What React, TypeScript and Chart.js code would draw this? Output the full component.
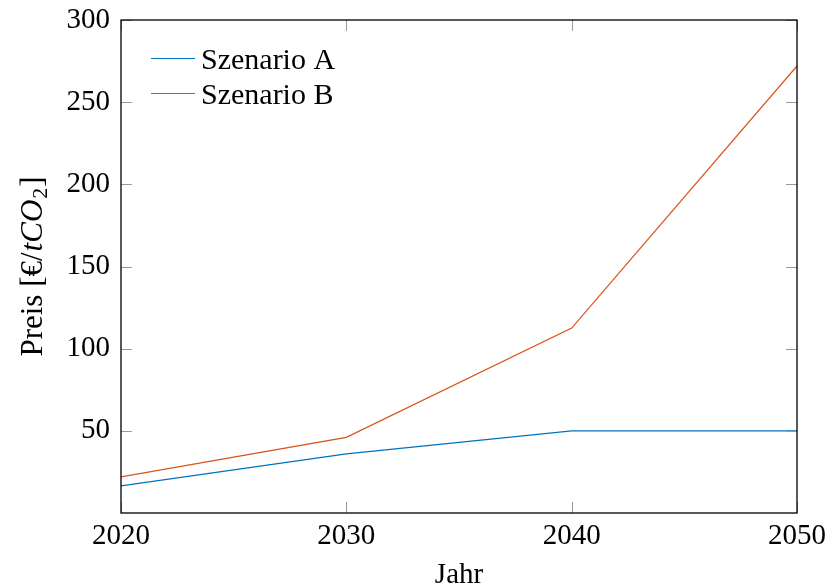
import React, { useEffect, useRef } from "react";
import { Chart, registerables } from "chart.js";

Chart.register(...registerables);

const years = [2020, 2030, 2040, 2050];
const szenarioA = [16.5, 36, 50, 50];
const szenarioB = [22, 46, 112.5, 272];
const seriesLabels = ["Szenario A", "Szenario B"];
const seriesColors = ["#0072BD", "#D95319"];
const xTicks = [2020, 2030, 2040, 2050];
const yTicks = [50, 100, 150, 200, 250, 300];
const xTitle = "Jahr";

const FONT = "'Liberation Serif', 'Times New Roman', serif";
const FS = 29;
const TFS = 31;

const zeroPad = (s: any) => {
  s.paddingLeft = 0;
  s.paddingRight = 0;
  s.paddingTop = 0;
  s.paddingBottom = 0;
};

const decorPlugin = {
  id: "decor",
  afterDraw(chart: any) {
    const { ctx, chartArea } = chart;
    const { left, right, top, bottom } = chartArea;
    const xs = chart.scales.x;
    const ys = chart.scales.y;
    ctx.save();
    // inward ticks
    ctx.strokeStyle = "#9a9a9a";
    ctx.lineWidth = 1;
    const tl = 11;
    ctx.beginPath();
    xTicks.forEach((v) => {
      const px = Math.round(xs.getPixelForValue(v)) + 0.5;
      ctx.moveTo(px, bottom);
      ctx.lineTo(px, bottom - tl);
      ctx.moveTo(px, top);
      ctx.lineTo(px, top + tl);
    });
    yTicks.forEach((v) => {
      const py = Math.round(ys.getPixelForValue(v)) + 0.5;
      ctx.moveTo(left, py);
      ctx.lineTo(left + tl, py);
      ctx.moveTo(right, py);
      ctx.lineTo(right - tl, py);
    });
    ctx.stroke();
    // frame
    ctx.strokeStyle = "#000";
    ctx.lineWidth = 1.3;
    ctx.strokeRect(left, top, right - left, bottom - top);

    // legend
    ctx.font = `${FS + 1}px ${FONT}`;
    ctx.textAlign = "left";
    ctx.textBaseline = "alphabetic";
    chart.data.datasets.forEach((ds: any, i: number) => {
      const ly = top + 38.5 + i * 35;
      ctx.strokeStyle = ds.borderColor;
      ctx.lineWidth = 1.2;
      ctx.beginPath();
      ctx.moveTo(left + 30, ly);
      ctx.lineTo(left + 74, ly);
      ctx.stroke();
      ctx.fillStyle = "#000";
      ctx.fillText(ds.label, left + 80, ly + 10);
    });

    // x title
    ctx.font = `${FS}px ${FONT}`;
    ctx.textAlign = "center";
    ctx.fillText(xTitle, (left + right) / 2, 583);

    // y title: Preis [€/tCO₂]
    ctx.translate(42, (top + bottom) / 2);
    ctx.rotate(-Math.PI / 2);
    const parts: { t: string; f: string; dy: number; gap: number }[] = [
      { t: "Preis [€/", f: `${TFS}px ${FONT}`, dy: 0, gap: 1 },
      { t: "tCO", f: `italic ${TFS}px ${FONT}`, dy: 0, gap: 1 },
      { t: "2", f: `${Math.round(TFS * 0.7)}px ${FONT}`, dy: 5, gap: 1 },
      { t: "]", f: `${TFS}px ${FONT}`, dy: 0, gap: 0 },
    ];
    let total = 0;
    parts.forEach((p) => {
      ctx.font = p.f;
      total += ctx.measureText(p.t).width + p.gap;
    });
    let x = -total / 2;
    ctx.textAlign = "left";
    parts.forEach((p) => {
      ctx.font = p.f;
      ctx.fillText(p.t, x, p.dy);
      x += ctx.measureText(p.t).width + p.gap;
    });
    ctx.restore();
  },
};

export default function App() {
  const ref = useRef<HTMLCanvasElement | null>(null);
  useEffect(() => {
    document.body.style.margin = "0";
    if (!ref.current) return;
    const chart = new Chart(ref.current, {
      type: "line",
      data: {
        datasets: [szenarioA, szenarioB].map((vals, i) => ({
          label: seriesLabels[i],
          data: years.map((y, j) => ({ x: y, y: vals[j] })),
          borderColor: seriesColors[i],
          backgroundColor: seriesColors[i],
          borderWidth: 1.2,
          pointRadius: 0,
          tension: 0,
          fill: false,
        })),
      },
      options: {
        animation: false,
        responsive: false,
        maintainAspectRatio: false,
        layout: { padding: { top: 20, right: 31, left: 0, bottom: 0 } },
        plugins: {
          legend: { display: false },
          tooltip: { enabled: false },
        },
        scales: {
          x: {
            type: "linear",
            min: 2020,
            max: 2050,
            afterBuildTicks: (s: any) => {
              s.ticks = xTicks.map((v) => ({ value: v }));
            },
            afterFit: (s: any) => {
              s.height = 75;
              zeroPad(s);
            },
            grid: { display: true, drawOnChartArea: false, drawTicks: false, color: "rgba(0,0,0,0)" },
            border: { display: false },
            ticks: {
              color: "#000",
              font: { family: FONT, size: FS },
              padding: 6,
              maxRotation: 0,
              autoSkip: false,
              callback: (v: any) => String(v),
            },
          },
          y: {
            type: "linear",
            min: 0,
            max: 300,
            afterBuildTicks: (s: any) => {
              s.ticks = yTicks.map((v) => ({ value: v }));
            },
            afterFit: (s: any) => {
              s.width = 121;
              zeroPad(s);
            },
            grid: { display: true, drawOnChartArea: false, drawTicks: false, color: "rgba(0,0,0,0)" },
            border: { display: false },
            ticks: {
              color: "#000",
              font: { family: FONT, size: FS },
              padding: 11,
              autoSkip: false,
              callback: (v: any) => String(v),
            },
          },
        },
      },
      plugins: [decorPlugin],
    });
    return () => chart.destroy();
  }, []);
  return <canvas ref={ref} width={828} height={588} style={{ display: "block" }} />;
}
